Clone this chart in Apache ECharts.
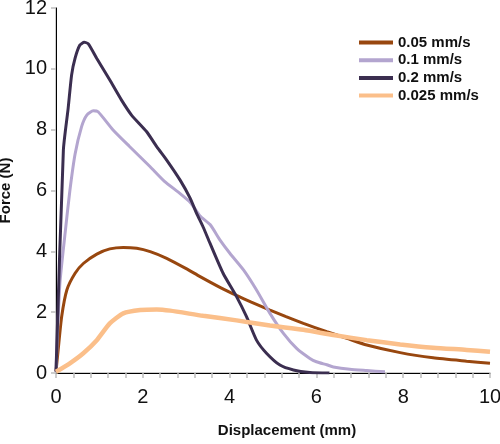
<!DOCTYPE html>
<html>
<head>
<meta charset="utf-8">
<script src="https://cdn.jsdelivr.net/npm/echarts@6/dist/echarts.min.js"></script>
<style>
html,body{margin:0;padding:0;background:#fff;}
#chart{width:500px;height:444px;}
</style>
</head>
<body>
<div id="chart"></div>
<script>
// Series names (legend order)
var seriesNames = ['0.05 mm/s', '0.1 mm/s', '0.2 mm/s', '0.025 mm/s'];

// [displacement (mm), force (N)]
var rate005 = [[0,0.05],[0.05,0.76],[0.13,1.85],[0.25,2.73],[0.44,3.28],[0.63,3.6],[0.94,3.91],[1.24,4.08],[1.55,4.13],[1.86,4.1],[2.17,3.99],[2.55,3.77],[3.0,3.43],[3.32,3.17],[3.8,2.8],[4.16,2.55],[4.5,2.33],[4.93,2.07],[5.3,1.85],[5.7,1.63],[6.24,1.36],[6.7,1.14],[7.16,0.92],[7.93,0.67],[8.69,0.5],[9.46,0.39],[10,0.32]];

var rate01 = [[0,0.05],[0.09,2.95],[0.21,4.6],[0.32,6.0],[0.44,7.2],[0.59,8.1],[0.71,8.48],[0.86,8.62],[0.97,8.59],[1.31,8.0],[1.7,7.44],[2.17,6.78],[2.5,6.3],[2.86,5.9],[3.1,5.6],[3.32,5.16],[3.55,4.88],[3.78,4.37],[4.01,3.93],[4.32,3.39],[4.62,2.73],[4.93,1.96],[5.24,1.3],[5.55,0.8],[5.85,0.48],[6.0,0.37],[6.24,0.27],[6.39,0.2],[6.77,0.12],[7.16,0.08],[7.58,0.04]];

var rate02 = [[0,0.05],[0.17,7.33],[0.28,8.7],[0.36,9.8],[0.44,10.35],[0.55,10.78],[0.65,10.87],[0.745,10.82],[0.94,10.34],[1.24,9.63],[1.51,8.97],[1.74,8.48],[2.09,7.93],[2.32,7.44],[2.55,7.0],[2.86,6.34],[3.09,5.75],[3.24,5.25],[3.39,4.8],[3.55,4.26],[3.85,3.28],[4.16,2.51],[4.39,1.85],[4.62,1.08],[4.85,0.65],[5.16,0.26],[5.47,0.1],[5.85,0.02],[6.3,0.0]];

var rate0025 = [[0,0.04],[0.32,0.32],[0.63,0.65],[0.94,1.08],[1.24,1.63],[1.55,1.96],[1.94,2.07],[2.32,2.09],[2.63,2.05],[3.39,1.88],[4.16,1.73],[4.93,1.56],[5.7,1.42],[6.39,1.25],[7.16,1.08],[7.93,0.94],[8.69,0.83],[9.46,0.76],[10,0.7]];

var colors = ['#98470f', '#b3a5cf', '#3b2e50', '#fbbf8a'];
var widths = [3, 3, 3, 4.5];
var allData = [rate005, rate01, rate02, rate0025];

var chart = echarts.init(document.getElementById('chart'));
var series = allData.map(function(d, i){
  return {
    name: seriesNames[i],
    type: 'line',
    data: d,
    xAxisIndex: 0,
    yAxisIndex: 0,
    showSymbol: false,
    smooth: 0.2,
    lineStyle: {color: colors[i], width: widths[i]},
    itemStyle: {color: colors[i]},
    animation: false
  };
});

chart.setOption({
  animation: false,
  grid: {left: 56, right: 10, top: 8, bottom: 71, outerBoundsMode: 'none', containLabel: false},
  legend: {
    orient: 'vertical',
    left: 354,
    top: 30,
    itemWidth: 34,
    itemHeight: 4,
    itemGap: 2.7,
    data: seriesNames.map(function(n){ return {name: n, icon: 'rect'}; }),
    textStyle: {fontFamily: 'Liberation Sans', fontWeight: 'bold', fontSize: 15, color: '#111', lineHeight: 15}
  },
  xAxis: [{
    type: 'value', min: 0, max: 10, interval: 2,
    name: 'Displacement (mm)', nameLocation: 'middle', nameGap: 50,
    nameTextStyle: {fontFamily: 'Liberation Sans', fontWeight: 'bold', fontSize: 15, color: '#111', padding: [0,0,0,28]},
    axisLine: {lineStyle: {color: '#bdbdbd', width: 1.5}},
    axisTick: {show: true, inside: false, length: 5, lineStyle: {color: '#bdbdbd', width: 1.5}},
    minorTick: {show: true, splitNumber: 5, length: 5, lineStyle: {color: '#bdbdbd', width: 1.5}},
    axisLabel: {margin: 14, fontFamily: 'Liberation Sans', fontSize: 20, color: '#111'},
    splitLine: {show: false}
  }, {
    type: 'value', min: 0, max: 10, position: 'top',
    axisLine: {show: true, lineStyle: {color: '#000', width: 1}},
    axisTick: {show: false}, axisLabel: {show: false}, splitLine: {show: false}
  }],
  yAxis: [{
    type: 'value', min: 0, max: 12, interval: 2,
    name: 'Force (N)', nameLocation: 'middle', nameGap: 40,
    nameTextStyle: {fontFamily: 'Liberation Sans', fontWeight: 'bold', fontSize: 15, color: '#111'},
    axisLine: {show: true, lineStyle: {color: '#bdbdbd', width: 1.5}},
    axisTick: {show: true, inside: false, length: 5, lineStyle: {color: '#bdbdbd', width: 1.5}},
    axisLabel: {margin: 9, fontFamily: 'Liberation Sans', fontSize: 20, color: '#111'},
    splitLine: {show: false}
  }, {
    type: 'value', min: 0, max: 12, position: 'right',
    axisLine: {show: true, lineStyle: {color: '#000', width: 1}},
    axisTick: {show: false}, axisLabel: {show: false}, splitLine: {show: false}
  }],
  series: series
});
</script>
</body>
</html>
